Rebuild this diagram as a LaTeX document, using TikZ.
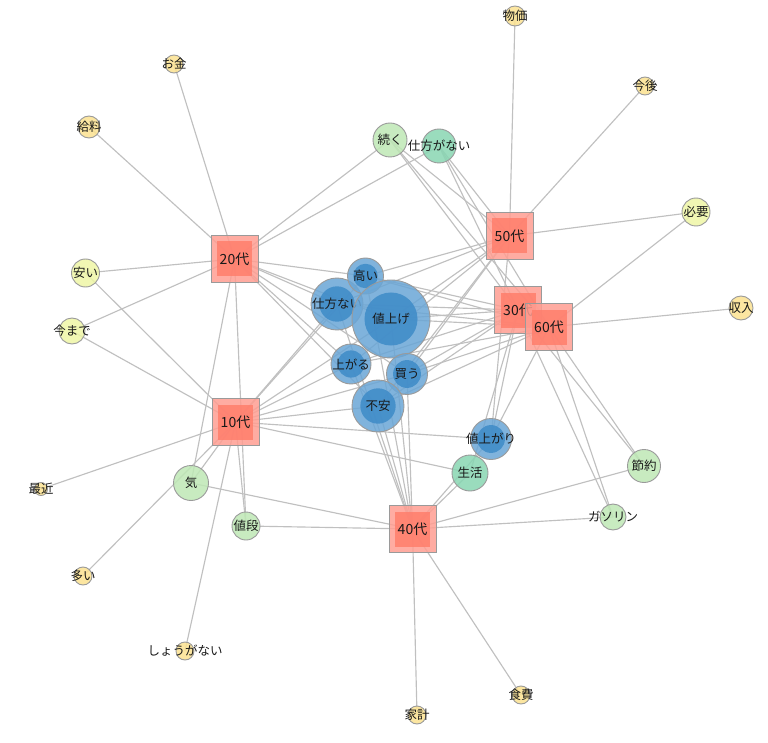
\documentclass[tikz,border=0pt]{standalone}
\usepackage{fontspec}
\setmainfont{Noto Sans CJK JP}
\usetikzlibrary{backgrounds,calc}
\definecolor{edgec}{HTML}{C0C0C0}
\definecolor{bordc}{HTML}{9A9A9A}
\definecolor{bouter}{HTML}{6AA6D6}
\definecolor{binner}{HTML}{3E8BC8}
\definecolor{souter}{HTML}{FF9E92}
\definecolor{sinner}{HTML}{FF7E6C}
\definecolor{cyel}{HTML}{FBE290}
\definecolor{cyg}{HTML}{EEF6A6}
\definecolor{clg}{HTML}{BEE8B5}
\definecolor{cteal}{HTML}{88D6B2}
\tikzset{
  x=1pt,y=-1pt,
  wcirc/.style={circle,draw=bordc,line width=0.9pt,inner sep=0pt,fill opacity=0.85},
  sq/.style={rectangle,draw=bordc,line width=0.9pt,fill=souter,fill opacity=0.85,inner sep=0pt,minimum size=47pt},
  lab/.style={inner sep=0pt,text=black!90,font=\fontsize{12.5}{14}\selectfont},
  slab/.style={inner sep=0pt,text=black!90,font=\fontsize{14}{16}\selectfont},
  edge/.style={draw=edgec,line width=1.15pt}
}
\newcommand\bnode[5]{%
  \node[wcirc,fill=bouter,minimum size=#4*2pt] (#1) at (#2,#3) {};
  \fill[binner,opacity=0.85] (#1.center) circle ({#4*0.68pt});
  \node[lab] (#1l) at (#1.center) {#5};}
\newcommand\wnode[6]{%
  \node[wcirc,fill=#5,minimum size=#4*2pt] (#1) at (#2,#3) {};
  \node[lab] (#1l) at (#1.center) {#6};}
\newcommand\snode[4]{%
  \node[sq] (#1) at (#2,#3) {};
  \fill[sinner,opacity=0.85] ($(#1.center)+(-17.5,-17.5)$) rectangle ++(35,35);
  \node[slab] (#1l) at (#1.center) {#4};}
\begin{document}
\begin{tikzpicture}
\useasboundingbox (0,0) rectangle (768,743);
% word nodes
\wnode{bukka}{515}{16}{10}{cyel}{物価}
\wnode{kongo}{645}{86}{9}{cyel}{今後}
\wnode{okane}{174}{64}{9}{cyel}{お金}
\wnode{kyuryo}{89}{127}{11}{cyel}{給料}
\wnode{hitsuyo}{696}{212}{14}{cyg}{必要}
\wnode{shunyu}{741}{308}{12}{cyel}{収入}
\wnode{yasui}{85.5}{273}{14}{cyg}{安い}
\wnode{imamade}{72}{331}{13}{cyg}{今まで}
\wnode{saikin}{41}{489}{6.5}{cyel}{最近}
\wnode{ooi}{83}{576}{9}{cyel}{多い}
\wnode{shoganai}{185}{651}{9}{cyel}{しょうがない}
\wnode{kakei}{417}{715}{9}{cyel}{家計}
\wnode{shokuhi}{521}{695}{9}{cyel}{食費}
\wnode{tsuzuku}{390}{140}{17}{clg}{続く}
\wnode{shikatag}{439}{146}{17}{cteal}{仕方がない}
\wnode{seikatsu}{470}{473}{18}{cteal}{生活}
\wnode{setsuyaku}{644}{466}{16.5}{clg}{節約}
\wnode{gasoline}{613}{517}{13}{clg}{ガソリン}
\wnode{ki}{191}{483}{17.5}{clg}{気}
\wnode{nedan}{246}{526}{14}{clg}{値段}
% blue nodes
\bnode{shikata}{337}{304}{26}{仕方ない}
\bnode{takai}{365.5}{276}{18}{高い}
\bnode{neage}{391}{319}{39}{値上げ}
\bnode{agaru}{351}{364}{20}{上がる}
\bnode{kau}{407}{374}{20.5}{買う}
\bnode{fuan}{378}{406}{26}{不安}
\bnode{neagari}{491}{439}{20.5}{値上がり}
% square nodes
\snode{a20}{234.5}{259}{20代}
\snode{a10}{235.5}{422}{10代}
\snode{a40}{412.5}{529}{40代}
\snode{a50}{509.5}{236}{50代}
\snode{a30}{518}{310}{30代}
\snode{a60}{549}{327}{60代}
% edges
\begin{scope}[on background layer]
\foreach \s/\t in {a20/okane,a20/kyuryo,a20/yasui,a20/imamade,a20/tsuzuku,a20/shikatag,a20/takai,a20/shikata,a20/neage,a20/agaru,a20/kau,a20/fuan,a20/ki,a20/nedan,
 a10/yasui,a10/imamade,a10/saikin,a10/ooi,a10/shoganai,a10/ki,a10/nedan,a10/takai,a10/shikata,a10/neage,a10/agaru,a10/kau,a10/fuan,a10/neagari,a10/seikatsu,
 a40/ki,a40/nedan,a40/kakei,a40/shokuhi,a40/setsuyaku,a40/gasoline,a40/seikatsu,a40/neage,a40/shikata,a40/takai,a40/agaru,a40/kau,a40/fuan,a40/neagari,
 a50/bukka,a50/kongo,a50/hitsuyo,a50/tsuzuku,a50/shikatag,a50/neage,a50/shikata,a50/takai,a50/agaru,a50/kau,a50/fuan,a50/neagari,
 a30/tsuzuku,a30/shikatag,a30/neage,a30/shikata,a30/takai,a30/agaru,a30/kau,a30/fuan,a30/neagari,a30/setsuyaku,a30/gasoline,a30/seikatsu,
 a60/hitsuyo,a60/shunyu,a60/setsuyaku,a60/gasoline,a60/shikatag,a60/tsuzuku,a60/neage,a60/shikata,a60/takai,a60/agaru,a60/kau,a60/fuan,a60/neagari}
  \draw[edge] (\s.center) -- (\t.center);
\end{scope}
\end{tikzpicture}
\end{document}
